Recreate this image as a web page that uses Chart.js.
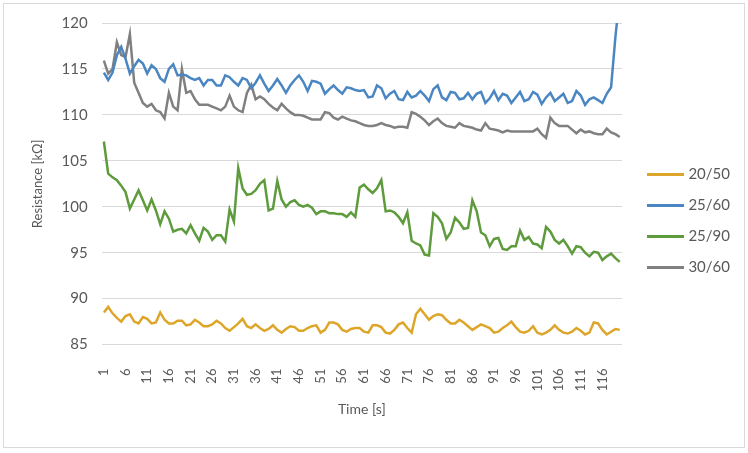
<!DOCTYPE html>
<html>
<head>
<meta charset="utf-8">
<script src="https://cdn.jsdelivr.net/npm/chart.js@4.4.0/dist/chart.umd.min.js"></script>
<style>
  html, body { margin: 0; padding: 0; background: #fff; }
  #chart { display: block; }
</style>
</head>
<body>
<canvas id="chart" width="748" height="453"></canvas>
<script>
"use strict";

// time axis: 1..120 s
const timeLabels = Array.from({ length: 120 }, (v, i) => String(i + 1));

const seriesNames = ["20/50", "25/60", "25/90", "30/60"];

const r2050 = [
    88.5, 89.1, 88.4, 87.9, 87.5, 88.1, 88.3, 87.5, 87.3, 88.0,
    87.8, 87.3, 87.4, 88.5, 87.7, 87.3, 87.3, 87.6, 87.6, 87.1,
    87.2, 87.7, 87.4, 87.0, 87.0, 87.2, 87.6, 87.3, 86.8, 86.5,
    86.9, 87.3, 87.8, 87.0, 86.8, 87.2, 86.8, 86.5, 86.7, 87.1,
    86.6, 86.3, 86.7, 87.0, 86.9, 86.5, 86.5, 86.8, 87.0, 87.1,
    86.3, 86.6, 87.4, 87.4, 87.2, 86.6, 86.4, 86.7, 86.8, 86.8,
    86.4, 86.3, 87.1, 87.1, 86.9, 86.3, 86.2, 86.6, 87.2, 87.4,
    86.8, 86.3, 88.3, 88.9, 88.3, 87.7, 88.1, 88.3, 88.2, 87.7,
    87.3, 87.3, 87.7, 87.4, 87.0, 86.6, 86.9, 87.2, 87.0, 86.8,
    86.3, 86.4, 86.8, 87.1, 87.5, 86.9, 86.4, 86.3, 86.5, 87.0,
    86.3, 86.1, 86.3, 86.6, 87.1, 86.6, 86.3, 86.2, 86.4, 86.8,
    86.5, 86.1, 86.3, 87.4, 87.3, 86.6, 86.1, 86.4, 86.7, 86.6
];

const r2560 = [
    114.6, 113.8, 114.6, 116.5, 117.4, 116.1, 114.5, 115.3, 116.0, 115.6,
    114.5, 115.4, 115.0, 114.0, 113.6, 115.0, 115.5, 114.3, 114.4, 114.3,
    114.0, 113.8, 114.0, 113.2, 113.8, 113.8, 113.2, 113.2, 114.3, 114.1,
    113.6, 113.2, 114.0, 113.8, 112.9, 113.5, 114.3, 113.4, 112.6, 113.2,
    113.9, 113.2, 112.4, 113.2, 113.8, 114.3, 113.6, 112.6, 113.7, 113.6,
    113.4, 112.3, 112.8, 113.2, 112.7, 112.3, 113.0, 112.9, 112.7, 112.6,
    112.7, 111.9, 112.0, 113.2, 112.9, 111.8, 112.3, 112.6, 111.7, 111.6,
    112.5, 111.9, 112.1, 112.6, 112.1, 111.5, 112.8, 113.2, 111.9, 111.6,
    112.5, 112.4, 111.7, 111.8, 112.4, 111.7, 112.3, 112.5, 111.3, 111.8,
    112.6, 111.6, 112.3, 112.1, 111.3, 111.9, 112.5, 111.5, 111.7, 112.5,
    112.2, 111.2, 111.9, 112.4, 111.5, 111.9, 112.3, 111.3, 111.5, 112.6,
    112.1, 111.1, 111.7, 111.9, 111.6, 111.3, 112.3, 113.0, 118.5, 123.0
];

const r2590 = [
    107.1, 103.6, 103.2, 102.9, 102.3, 101.6, 99.8, 100.8, 101.8, 100.7,
    99.6, 100.8, 99.6, 98.1, 99.5, 98.7, 97.3, 97.5, 97.6, 97.1,
    98.0, 97.1, 96.3, 97.7, 97.3, 96.4, 96.9, 96.9, 96.2, 99.7,
    98.4, 104.2, 102.0, 101.3, 101.4, 101.8, 102.5, 102.9, 99.6, 99.8,
    102.8, 100.8, 100.0, 100.5, 100.7, 100.2, 100.0, 100.2, 99.9, 99.2,
    99.5, 99.5, 99.3, 99.3, 99.2, 99.2, 98.9, 99.4, 98.9, 102.1,
    102.4, 101.9, 101.5, 102.0, 102.9, 99.5, 99.6, 99.4, 98.9, 98.2,
    99.4, 96.3, 96.0, 95.8, 94.8, 94.7, 99.3, 98.9, 98.2, 96.5,
    97.2, 98.8, 98.3, 97.6, 97.7, 100.7, 99.5, 97.2, 96.9, 95.7,
    96.5, 96.6, 95.4, 95.3, 95.7, 95.7, 97.4, 96.4, 96.7, 96.0,
    95.9, 95.5, 97.8, 97.3, 96.4, 96.0, 96.4, 95.7, 94.9, 95.7,
    95.6, 95.0, 94.6, 95.1, 95.0, 94.2, 94.6, 94.9, 94.4, 94.0
];

const r3060 = [
    115.9, 114.5, 115.0, 117.9, 116.5, 116.3, 118.8, 113.5, 112.4, 111.3,
    110.9, 111.2, 110.5, 110.3, 109.6, 112.4, 110.9, 110.5, 115.0, 112.4,
    112.6, 111.7, 111.1, 111.1, 111.1, 110.9, 110.7, 110.5, 110.9, 112.1,
    110.9, 110.5, 110.3, 112.4, 113.3, 111.7, 112.0, 111.7, 111.2, 110.8,
    110.5, 111.2, 110.7, 110.3, 110.0, 110.0, 109.9, 109.7, 109.5, 109.5,
    109.5, 110.3, 110.2, 109.7, 109.5, 109.8, 109.6, 109.4, 109.3, 109.1,
    108.9, 108.8, 108.8, 108.9, 109.1, 108.9, 108.8, 108.6, 108.7, 108.7,
    108.6, 110.3, 110.1, 109.8, 109.4, 108.9, 109.3, 109.6, 109.1, 108.8,
    108.7, 108.6, 109.1, 108.8, 108.7, 108.6, 108.4, 108.3, 109.1, 108.5,
    108.4, 108.3, 108.1, 108.3, 108.2, 108.2, 108.2, 108.2, 108.2, 108.2,
    108.5, 107.9, 107.5, 109.7, 109.1, 108.8, 108.8, 108.8, 108.4, 108.0,
    108.4, 108.1, 108.2, 108.0, 107.9, 107.9, 108.5, 108.1, 107.9, 107.6
];

const lineColors = ["#DDA62A", "#4A86C2", "#5E9B3D", "#808080"];
const textColor = "#595959";
const gridColor = "#D9D9D9";
const fontFamily = "Lato, 'Liberation Sans', sans-serif";

// legend sample: a short line drawn a bit wider than the legend box,
// so the label text sits close to it
function legendLine(color) {
    const c = document.createElement("canvas");
    c.width = 37;
    c.height = 3;
    const g = c.getContext("2d");
    g.fillStyle = color;
    g.fillRect(0, 0, 37, 3);
    return c;
}

const frame = {
    id: "frame",
    beforeDraw(chart) {
        const { ctx } = chart;
        ctx.save();
        ctx.fillStyle = "#fff";
        ctx.fillRect(0, 0, chart.width, chart.height);
        ctx.strokeStyle = gridColor;
        ctx.lineWidth = 1;
        ctx.strokeRect(3.5, 3.5, chart.width - 7, chart.height - 9);
        ctx.restore();
    },
    afterLayout(chart) {
        const lg = chart.legend;
        lg.left += 13;
        lg.right += 13;
        lg.top += 3;
        lg.bottom += 3;
    }
};

const datasets = [r2050, r2560, r2590, r3060].map((data, i) => ({
    label: seriesNames[i],
    data,
    borderColor: lineColors[i],
    backgroundColor: lineColors[i],
    borderWidth: 2.5,
    pointRadius: 0,
    pointStyle: legendLine(lineColors[i]),
    tension: 0
}));

new Chart(document.getElementById("chart").getContext("2d"), {
    type: "line",
    data: { labels: timeLabels, datasets },
    plugins: [frame],
    options: {
        responsive: false,
        animation: false,
        layout: { padding: { left: 26, right: 21, top: 14, bottom: 31 } },
        plugins: {
            legend: {
                position: "right",
                labels: {
                    usePointStyle: true,
                    pointStyleWidth: 30,
                    color: textColor,
                    font: { family: fontFamily, size: 15 },
                    padding: 16
                }
            },
            tooltip: { enabled: false }
        },
        scales: {
            x: {
                offset: true,
                grid: { display: false },
                border: { display: false },
                afterFit(scale) {
                    scale.height -= 7;
                },
                title: {
                    display: true,
                    text: "Time [s]",
                    color: textColor,
                    font: { family: fontFamily, size: 14 },
                    padding: { top: 1, bottom: 4 }
                },
                ticks: {
                    autoSkip: false,
                    minRotation: 90,
                    maxRotation: 90,
                    padding: 16,
                    color: textColor,
                    font: { family: fontFamily, size: 13 },
                    callback(value, index) {
                        return index % 5 === 0 ? timeLabels[index] : null;
                    }
                }
            },
            y: {
                min: 85,
                max: 120,
                ticks: {
                    stepSize: 5,
                    padding: 14,
                    color: textColor,
                    font: { family: fontFamily, size: 15 }
                },
                grid: { color: gridColor, drawTicks: false },
                border: { display: false },
                title: {
                    display: true,
                    text: "Resistance [kΩ]",
                    color: textColor,
                    font: { family: fontFamily, size: 13 },
                    padding: { top: 4, bottom: 2 }
                }
            }
        }
    }
});
</script>
</body>
</html>
